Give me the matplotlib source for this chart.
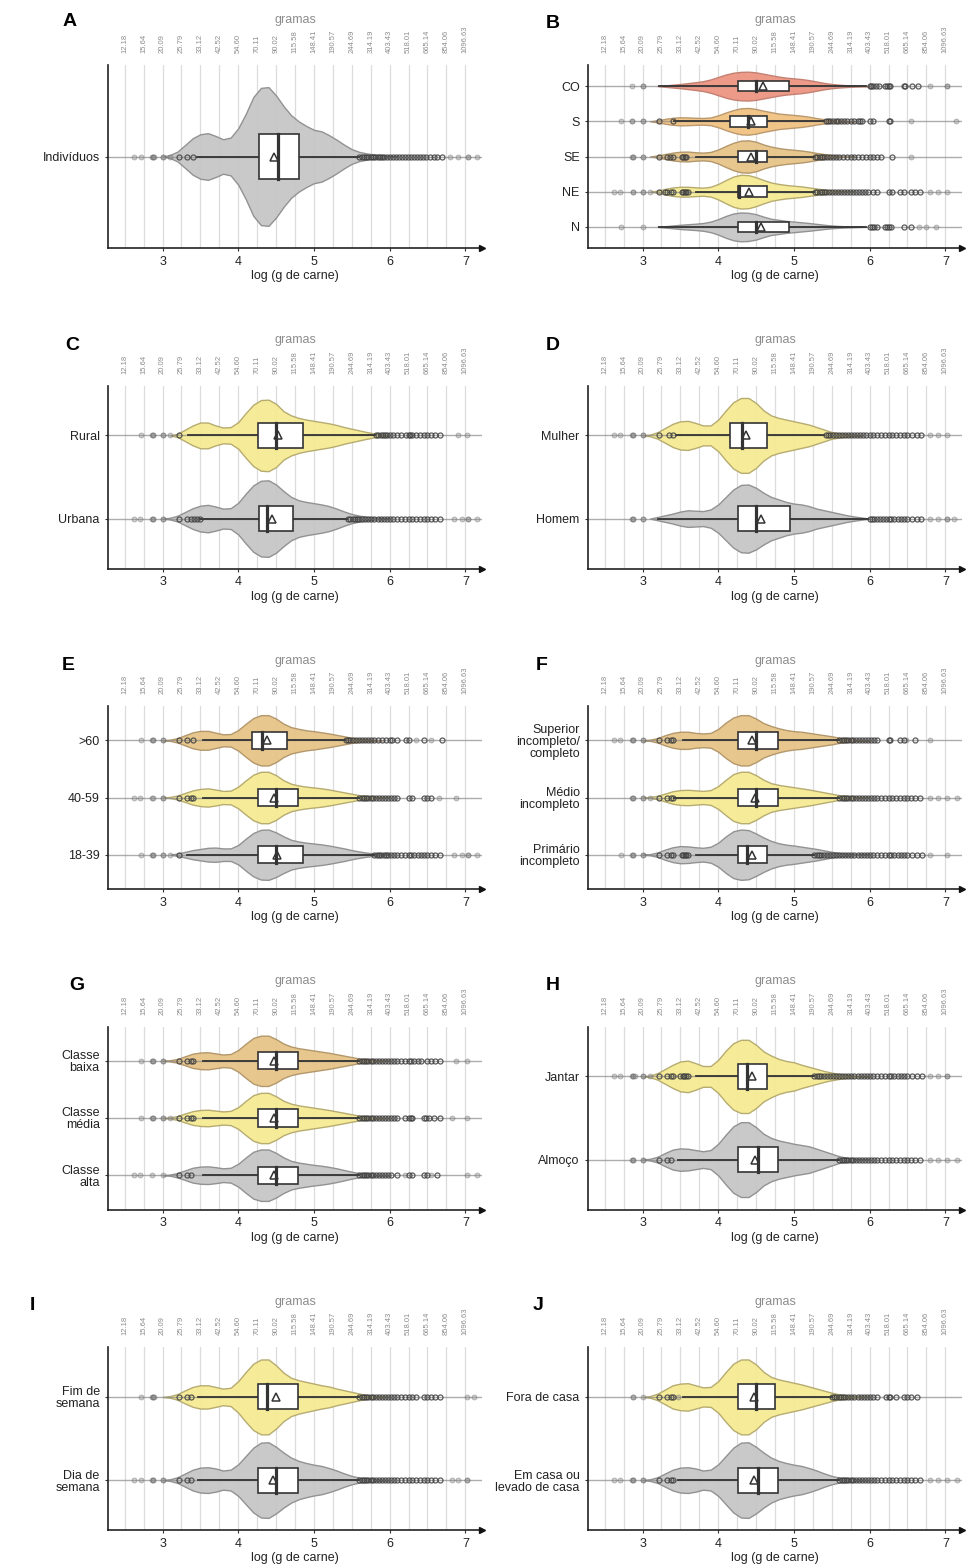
import numpy as np
import matplotlib
matplotlib.use('Agg')
import matplotlib.pyplot as plt
from matplotlib.patches import Rectangle

plt.rcParams['font.family'] = ['Liberation Sans', 'DejaVu Sans']

# top axis: grams at every 0.25 of log(g)
log_ticks = [2.5, 2.75, 3.0, 3.25, 3.5, 3.75, 4.0, 4.25, 4.5, 4.75, 5.0,
             5.25, 5.5, 5.75, 6.0, 6.25, 6.5, 6.75, 7.0]
gram_labels = ['12.18', '15.64', '20.09', '25.79', '33.12', '42.52', '54.60',
               '70.11', '90.02', '115.58', '148.41', '190.57', '244.69',
               '314.19', '403.43', '518.01', '665.14', '854.06', '1096.63']
x_ticks = [3, 4, 5, 6, 7]

# log(g) values where the violin half widths were read
prof_x = [3.0, 3.1, 3.2, 3.3, 3.4, 3.5, 3.6, 3.7, 3.8, 3.9, 4.0, 4.1, 4.2,
          4.3, 4.4, 4.5, 4.6, 4.7, 4.8, 4.9, 5.0, 5.1, 5.2, 5.3, 5.4, 5.5,
          5.6, 5.7, 5.8, 5.9, 6.0, 6.1, 6.2]

# box = [q1, median, q3, whisker low, whisker high, mean]

# A
a_labels = ['Indivíduos']
a_fill = ['grey']
a_width = [[0, .01, .033, .076, .12, .146, .153, .135, .113, .124, .185, .28, .39, .45, .455, .40,
            .33, .27, .23, .20, .175, .165, .14, .11, .077, .048, .03, .02, .013, .008, .004, 0, 0]]
a_box = [[4.27, 4.52, 4.80, 3.45, 5.60, 4.47]]
a_out = [[3.22, 3.33, 3.40, 5.60, 5.63, 5.66, 5.69, 5.72, 5.75, 5.78, 5.81, 5.84, 5.87, 5.90, 5.93,
          5.96, 6.0, 6.04, 6.08, 6.12, 6.16, 6.2, 6.24, 6.28, 6.32, 6.36, 6.4, 6.44, 6.48, 6.53,
          6.58, 6.63, 6.69]]
a_pts = [[2.62, 2.72, 2.86, 2.87, 2.88, 2.89, 3.0, 3.0, 3.1, 6.8, 6.9, 7.03, 7.03, 7.15]]

# B
b_labels = ['CO', 'S', 'SE', 'NE', 'N']
b_fill = ['salmon', 'orange', 'tan', 'yellow', 'grey']
b_width = [
    [0, 0, 0, .02, .04, .06, .085, .11, .14, .19, .26, .33, .38, .405, .41, .39, .35,
     .31, .27, .24, .22, .20, .17, .13, .09, .06, .04, .025, .015, .008, 0, 0, 0],
    [0, 0, .03, .07, .10, .115, .11, .10, .095, .11, .17, .25, .32, .37, .38, .35, .30,
     .26, .22, .20, .18, .16, .13, .09, .06, .035, .02, .01, 0, 0, 0, 0, 0],
    [0, 0, .03, .07, .11, .135, .14, .12, .11, .13, .20, .30, .39, .45, .46, .42, .34,
     .28, .24, .21, .19, .17, .14, .10, .07, .04, .02, .01, 0, 0, 0, 0, 0],
    [0, 0, .03, .08, .12, .14, .14, .125, .115, .14, .22, .33, .43, .48, .47, .41, .33,
     .26, .22, .19, .17, .15, .12, .09, .06, .035, .02, .01, 0, 0, 0, 0, 0],
    [0, 0, 0, .02, .04, .06, .075, .09, .11, .15, .22, .31, .38, .41, .40, .36, .29,
     .23, .20, .17, .15, .13, .11, .085, .06, .04, .025, .015, .008, 0, 0, 0, 0],
]
b_box = [[4.26, 4.50, 4.94, 3.22, 5.95, 4.59],
         [4.15, 4.39, 4.65, 3.42, 5.40, 4.43],
         [4.26, 4.50, 4.65, 3.70, 5.27, 4.43],
         [4.26, 4.27, 4.65, 3.70, 5.27, 4.41],
         [4.26, 4.50, 4.94, 3.22, 5.95, 4.57]]
b_out = [
    [6.0, 6.02, 6.05, 6.08, 6.12, 6.2, 6.23, 6.25, 6.27, 6.45, 6.47, 6.56, 6.64],
    [3.22, 3.40, 5.42, 5.45, 5.48, 5.51, 5.55, 5.58, 5.62, 5.66, 5.70, 5.75, 5.80, 5.84,
     5.87, 5.90, 6.0, 6.05, 6.25, 6.27],
    [3.22, 3.32, 3.36, 3.40, 3.52, 3.54, 3.56, 3.58, 5.28, 5.31, 5.34, 5.37, 5.40, 5.44,
     5.48, 5.52, 5.56, 5.60, 5.65, 5.70, 5.75, 5.80, 5.85, 5.90, 5.95, 6.0, 6.05, 6.1,
     6.15, 6.3],
    [3.22, 3.30, 3.33, 3.37, 3.40, 3.52, 3.54, 3.56, 3.58, 3.60, 5.28, 5.31, 5.34, 5.37,
     5.40, 5.43, 5.46, 5.50, 5.54, 5.58, 5.62, 5.66, 5.70, 5.74, 5.78, 5.82, 5.86, 5.90,
     5.94, 5.98, 6.05, 6.1, 6.25, 6.3, 6.4, 6.45, 6.55, 6.6, 6.67],
    [6.0, 6.03, 6.06, 6.1, 6.2, 6.23, 6.26, 6.28, 6.45, 6.55],
]
b_pts = [[2.86, 3.0, 3.0, 6.8, 7.02, 7.02],
         [2.72, 2.86, 2.86, 3.0, 3.0, 6.55, 7.14],
         [2.86, 2.88, 2.88, 3.0, 3.0, 6.55],
         [2.62, 2.7, 2.88, 2.88, 3.0, 3.0, 3.1, 6.8, 6.9, 7.02],
         [2.72, 3.0, 6.65, 6.75, 6.88]]

# C
c_labels = ['Rural', 'Urbana']
c_fill = ['yellow', 'grey']
c_width = [
    [0, 0, .02, .07, .12, .155, .155, .12, .095, .10, .16, .27, .37, .425, .43, .38, .29,
     .24, .21, .19, .175, .16, .145, .125, .10, .08, .06, .04, .022, .01, 0, 0, 0],
    [0, .01, .035, .08, .125, .155, .165, .145, .12, .125, .19, .30, .40, .455, .46, .41, .33,
     .26, .22, .20, .185, .17, .15, .12, .085, .055, .035, .022, .013, .007, 0, 0, 0],
]
c_box = [[4.26, 4.50, 4.86, 3.34, 5.81, 4.53],
         [4.27, 4.38, 4.72, 3.50, 5.44, 4.45]]
c_out = [
    [3.22, 5.82, 5.85, 5.88, 5.91, 5.94, 5.97, 6.0, 6.05, 6.1, 6.15, 6.22, 6.25, 6.27, 6.3,
     6.35, 6.4, 6.45, 6.5, 6.55, 6.6, 6.67],
    [3.22, 3.33, 3.37, 3.41, 3.45, 3.50, 5.45, 5.48, 5.51, 5.54, 5.57, 5.60, 5.64, 5.68,
     5.72, 5.76, 5.80, 5.84, 5.88, 5.92, 5.96, 6.0, 6.05, 6.1, 6.15, 6.2, 6.25, 6.3, 6.35,
     6.4, 6.45, 6.5, 6.55, 6.6, 6.67],
]
c_pts = [[2.72, 2.86, 2.87, 2.88, 3.0, 3.0, 3.1, 6.9, 7.02],
         [2.62, 2.7, 2.86, 2.87, 2.88, 3.0, 3.0, 6.85, 6.95, 7.03, 7.03, 7.15]]

# D
d_labels = ['Mulher', 'Homem']
d_fill = ['yellow', 'grey']
d_width = [
    [0, .01, .04, .09, .14, .17, .175, .15, .12, .12, .19, .30, .40, .45, .45, .39, .30,
     .24, .21, .19, .17, .15, .13, .10, .07, .04, .025, .015, .008, 0, 0, 0, 0],
    [0, 0, .02, .04, .06, .085, .10, .095, .09, .11, .17, .26, .35, .405, .41, .37, .31,
     .26, .23, .20, .18, .17, .15, .12, .10, .08, .06, .04, .025, .012, 0, 0, 0],
]
d_box = [[4.15, 4.32, 4.65, 3.44, 5.40, 4.37],
         [4.26, 4.50, 4.95, 3.20, 5.98, 4.56]]
d_out = [
    [3.22, 3.35, 3.40, 5.42, 5.45, 5.48, 5.51, 5.55, 5.59, 5.63, 5.67, 5.71, 5.75, 5.79,
     5.83, 5.87, 5.91, 5.95, 6.0, 6.05, 6.1, 6.15, 6.2, 6.25, 6.3, 6.35, 6.4, 6.45, 6.5,
     6.56, 6.62, 6.68],
    [6.0, 6.03, 6.06, 6.1, 6.14, 6.18, 6.22, 6.25, 6.28, 6.32, 6.37, 6.42, 6.46, 6.5, 6.56,
     6.62, 6.68],
]
d_pts = [[2.62, 2.7, 2.86, 2.87, 2.88, 3.0, 3.0, 6.8, 6.9, 7.02],
         [2.86, 2.87, 2.88, 3.0, 3.0, 6.8, 6.9, 7.02, 7.02, 7.12]]

# E
e_labels = ['>60', '40-59', '18-39']
e_fill = ['tan', 'yellow', 'grey']
e_width = [
    [0, .01, .04, .09, .14, .165, .165, .135, .105, .11, .18, .29, .39, .44, .44, .38, .29,
     .23, .20, .175, .16, .14, .12, .095, .07, .045, .028, .016, .008, 0, 0, 0, 0],
    [0, .01, .035, .08, .125, .15, .16, .14, .115, .12, .19, .30, .40, .45, .45, .39, .30,
     .24, .21, .19, .175, .16, .14, .115, .09, .065, .04, .025, .013, .006, 0, 0, 0],
    [0, 0, .02, .05, .08, .10, .12, .125, .11, .11, .17, .28, .38, .435, .44, .39, .32,
     .26, .23, .21, .195, .18, .16, .135, .11, .08, .055, .035, .02, .01, 0, 0, 0],
]
e_box = [[4.18, 4.32, 4.65, 3.54, 5.41, 4.38],
         [4.26, 4.50, 4.79, 3.54, 5.60, 4.47],
         [4.26, 4.50, 4.86, 3.33, 5.80, 4.51]]
e_out = [
    [3.22, 3.33, 3.40, 5.42, 5.45, 5.48, 5.51, 5.55, 5.59, 5.63, 5.67, 5.71, 5.75, 5.80,
     5.85, 5.90, 5.95, 6.0, 6.03, 6.1, 6.22, 6.25, 6.45, 6.69],
    [3.22, 3.33, 3.37, 3.40, 5.60, 5.63, 5.66, 5.69, 5.72, 5.75, 5.78, 5.82, 5.86, 5.90,
     5.94, 5.98, 6.02, 6.06, 6.1, 6.25, 6.3, 6.45, 6.5, 6.55],
    [3.22, 5.80, 5.83, 5.86, 5.89, 5.92, 5.95, 5.98, 6.02, 6.06, 6.1, 6.15, 6.2, 6.25,
     6.28, 6.32, 6.37, 6.42, 6.46, 6.5, 6.55, 6.6, 6.67],
]
e_pts = [[2.72, 2.86, 2.87, 2.88, 3.0, 3.0, 6.35, 6.55],
         [2.62, 2.7, 2.86, 2.87, 3.0, 3.0, 6.65, 6.88],
         [2.72, 2.86, 2.87, 2.88, 3.0, 3.0, 3.1, 6.85, 6.95, 7.03, 7.03, 7.15]]

# F
f_labels = ['Superior\nincompleto/\ncompleto', 'Médio\nincompleto', 'Primário\nincompleto']
f_fill = ['tan', 'yellow', 'grey']
f_width = [
    [0, .01, .04, .09, .13, .15, .15, .13, .12, .13, .20, .31, .40, .44, .44, .38, .30,
     .25, .21, .18, .16, .15, .13, .11, .09, .07, .045, .025, .012, .005, 0, 0, 0],
    [0, .01, .03, .07, .11, .13, .135, .125, .115, .13, .20, .31, .41, .45, .45, .39, .31,
     .25, .22, .20, .18, .16, .14, .115, .09, .065, .04, .025, .013, .006, 0, 0, 0],
    [0, .01, .04, .09, .13, .15, .145, .13, .12, .14, .21, .32, .41, .44, .43, .37, .30,
     .24, .20, .175, .16, .14, .12, .10, .075, .05, .03, .018, .01, .005, 0, 0, 0],
]
f_box = [[4.26, 4.50, 4.79, 3.54, 5.60, 4.45],
         [4.26, 4.50, 4.79, 3.42, 5.60, 4.48],
         [4.26, 4.38, 4.65, 3.70, 5.27, 4.45]]
f_out = [
    [3.22, 3.33, 3.37, 3.40, 5.60, 5.63, 5.66, 5.69, 5.72, 5.75, 5.78, 5.82, 5.86, 5.90,
     5.94, 5.98, 6.02, 6.06, 6.1, 6.25, 6.27, 6.4, 6.45, 6.6],
    [3.22, 3.33, 3.37, 3.40, 5.60, 5.63, 5.66, 5.69, 5.72, 5.75, 5.78, 5.82, 5.86, 5.90,
     5.94, 5.98, 6.02, 6.06, 6.1, 6.15, 6.2, 6.25, 6.3, 6.35, 6.4, 6.45, 6.5, 6.55, 6.6, 6.67],
    [3.22, 3.33, 3.37, 3.40, 3.52, 3.54, 3.56, 3.58, 3.60, 5.27, 5.30, 5.33, 5.36, 5.40,
     5.44, 5.48, 5.52, 5.56, 5.60, 5.64, 5.68, 5.72, 5.76, 5.80, 5.84, 5.88, 5.92, 5.96,
     6.0, 6.05, 6.1, 6.15, 6.2, 6.25, 6.28, 6.32, 6.37, 6.42, 6.46, 6.5, 6.56, 6.62, 6.69],
]
f_pts = [[2.62, 2.7, 2.86, 2.87, 2.88, 3.0, 3.0, 6.48, 6.8],
         [2.86, 2.87, 2.88, 3.0, 3.0, 3.1, 6.8, 6.9, 7.02, 7.15],
         [2.72, 2.86, 2.87, 2.88, 3.0, 3.0, 6.8, 7.02]]

# G
g_labels = ['Classe\nbaixa', 'Classe\nmédia', 'Classe\nalta']
g_fill = ['tan', 'yellow', 'grey']
g_width = [
    [0, .01, .035, .08, .125, .145, .15, .13, .11, .12, .19, .30, .40, .44, .44, .38, .30,
     .25, .22, .20, .18, .16, .14, .115, .09, .065, .04, .025, .013, .006, 0, 0, 0],
    [0, .01, .035, .08, .12, .14, .145, .13, .115, .125, .19, .30, .40, .44, .44, .38, .30,
     .25, .22, .20, .18, .16, .14, .115, .09, .065, .04, .025, .013, .006, 0, 0, 0],
    [0, .01, .04, .085, .13, .15, .155, .14, .12, .13, .20, .31, .41, .45, .45, .39, .31,
     .25, .22, .20, .18, .165, .145, .12, .09, .06, .035, .02, .01, .005, 0, 0, 0],
]
g_box = [[4.26, 4.50, 4.79, 3.54, 5.60, 4.47],
         [4.26, 4.50, 4.79, 3.54, 5.60, 4.47],
         [4.26, 4.50, 4.79, 3.54, 5.60, 4.47]]
g_out = [
    [3.22, 3.33, 3.37, 3.40, 5.60, 5.63, 5.66, 5.69, 5.72, 5.75, 5.78, 5.82, 5.86, 5.90,
     5.94, 5.98, 6.02, 6.06, 6.1, 6.15, 6.2, 6.25, 6.28, 6.32, 6.37, 6.42, 6.5, 6.55, 6.6, 6.67],
    [3.22, 3.33, 3.37, 3.40, 5.60, 5.63, 5.66, 5.69, 5.72, 5.75, 5.78, 5.82, 5.86, 5.90,
     5.94, 5.98, 6.02, 6.06, 6.1, 6.2, 6.25, 6.28, 6.3, 6.45, 6.48, 6.52, 6.58, 6.67],
    [3.22, 3.33, 3.37, 5.60, 5.63, 5.66, 5.69, 5.72, 5.75, 5.78, 5.82, 5.86, 5.90, 5.94,
     5.98, 6.02, 6.1, 6.25, 6.3, 6.45, 6.5, 6.62],
]
g_pts = [[2.72, 2.86, 2.87, 2.88, 3.0, 3.0, 6.88, 7.02],
         [2.72, 2.86, 2.87, 2.88, 3.0, 3.0, 3.1, 6.82, 7.02],
         [2.62, 2.7, 2.86, 3.0, 6.2, 6.55, 7.02, 7.15]]

# H
h_labels = ['Jantar', 'Almoço']
h_fill = ['yellow', 'grey']
h_width = [
    [0, .01, .04, .09, .14, .18, .19, .16, .125, .125, .20, .31, .40, .44, .44, .38, .30,
     .25, .21, .185, .17, .14, .115, .09, .065, .045, .03, .018, .01, .005, 0, 0, 0],
    [0, .01, .035, .08, .12, .135, .13, .115, .10, .115, .19, .30, .40, .45, .45, .39, .31,
     .26, .23, .21, .19, .175, .16, .13, .10, .07, .04, .022, .011, .005, 0, 0, 0],
]
h_box = [[4.26, 4.38, 4.65, 3.70, 5.27, 4.44],
         [4.26, 4.52, 4.79, 3.47, 5.60, 4.48]]
h_out = [
    [3.22, 3.33, 3.37, 3.40, 3.50, 3.53, 3.55, 3.57, 3.60, 5.27, 5.30, 5.33, 5.36, 5.40,
     5.44, 5.48, 5.52, 5.56, 5.60, 5.64, 5.68, 5.72, 5.76, 5.80, 5.84, 5.88, 5.92, 5.96,
     6.0, 6.05, 6.1, 6.15, 6.2, 6.25, 6.28, 6.32, 6.37, 6.42, 6.46, 6.5, 6.56, 6.62, 6.69],
    [3.22, 3.33, 3.37, 5.60, 5.63, 5.66, 5.69, 5.72, 5.75, 5.78, 5.82, 5.86, 5.90, 5.94,
     5.98, 6.02, 6.06, 6.1, 6.15, 6.2, 6.25, 6.3, 6.35, 6.4, 6.45, 6.5, 6.55, 6.6, 6.67],
]
h_pts = [[2.62, 2.7, 2.86, 2.87, 2.88, 2.9, 3.0, 3.0, 3.1, 6.8, 6.9, 7.02, 7.02],
         [2.86, 2.87, 2.88, 3.0, 3.0, 6.8, 6.9, 7.02, 7.15]]

# I
i_labels = ['Fim de\nsemana', 'Dia de\nsemana']
i_fill = ['yellow', 'grey']
i_width = [
    [0, .01, .035, .08, .12, .14, .14, .12, .10, .11, .19, .30, .40, .45, .45, .38, .29,
     .23, .20, .18, .16, .14, .125, .10, .08, .06, .04, .022, .011, .005, 0, 0, 0],
    [0, .01, .035, .08, .125, .15, .155, .14, .115, .125, .19, .29, .39, .45, .455, .40, .33,
     .27, .23, .205, .185, .17, .145, .115, .08, .05, .03, .02, .012, .006, 0, 0, 0],
]
i_box = [[4.26, 4.38, 4.79, 3.47, 5.60, 4.50],
         [4.26, 4.50, 4.79, 3.47, 5.60, 4.46]]
i_out = [
    [3.22, 3.33, 3.37, 5.60, 5.63, 5.66, 5.69, 5.72, 5.75, 5.78, 5.82, 5.86, 5.90, 5.94,
     5.98, 6.02, 6.06, 6.1, 6.15, 6.2, 6.25, 6.3, 6.35, 6.45, 6.5, 6.55, 6.6, 6.67],
    [3.22, 3.33, 3.37, 5.60, 5.63, 5.66, 5.69, 5.72, 5.75, 5.78, 5.82, 5.86, 5.90, 5.94,
     5.98, 6.02, 6.06, 6.1, 6.15, 6.2, 6.25, 6.3, 6.35, 6.4, 6.45, 6.5, 6.55, 6.6, 6.67],
]
i_pts = [[2.72, 2.86, 2.87, 2.88, 2.89, 7.02, 7.12],
         [2.62, 2.72, 2.86, 2.87, 2.88, 3.0, 3.0, 6.82, 6.9, 7.02, 7.02]]

# J
j_labels = ['Fora de casa', 'Em casa ou\nlevado de casa']
j_fill = ['yellow', 'grey']
j_width = [
    [0, .01, .04, .09, .14, .16, .165, .14, .115, .12, .19, .30, .40, .45, .45, .39, .30,
     .24, .21, .19, .17, .15, .125, .10, .075, .05, .03, .018, .01, .005, 0, 0, 0],
    [0, .01, .035, .08, .125, .15, .155, .14, .115, .125, .19, .29, .39, .45, .455, .40, .33,
     .27, .23, .205, .185, .17, .145, .115, .08, .05, .03, .02, .012, .006, 0, 0, 0],
]
j_box = [[4.26, 4.50, 4.75, 3.54, 5.50, 4.47],
         [4.26, 4.52, 4.79, 3.47, 5.60, 4.47]]
j_out = [
    [3.22, 3.33, 3.37, 3.40, 5.50, 5.53, 5.56, 5.59, 5.62, 5.65, 5.68, 5.72, 5.76, 5.80,
     5.84, 5.88, 5.92, 5.96, 6.0, 6.05, 6.1, 6.22, 6.25, 6.27, 6.35, 6.45, 6.5, 6.55, 6.62],
    [3.22, 3.33, 3.37, 3.40, 5.60, 5.63, 5.66, 5.69, 5.72, 5.75, 5.78, 5.82, 5.86, 5.90,
     5.94, 5.98, 6.02, 6.06, 6.1, 6.15, 6.2, 6.25, 6.3, 6.35, 6.4, 6.45, 6.5, 6.55, 6.6, 6.67],
]
j_pts = [[2.88, 2.88, 3.0, 3.47],
         [2.62, 2.7, 2.86, 2.87, 2.88, 3.0, 3.0, 6.8, 6.9, 7.02, 7.15]]

panels = [
    ('A', a_labels, a_fill, a_width, a_box, a_out, a_pts),
    ('B', b_labels, b_fill, b_width, b_box, b_out, b_pts),
    ('C', c_labels, c_fill, c_width, c_box, c_out, c_pts),
    ('D', d_labels, d_fill, d_width, d_box, d_out, d_pts),
    ('E', e_labels, e_fill, e_width, e_box, e_out, e_pts),
    ('F', f_labels, f_fill, f_width, f_box, f_out, f_pts),
    ('G', g_labels, g_fill, g_width, g_box, g_out, g_pts),
    ('H', h_labels, h_fill, h_width, h_box, h_out, h_pts),
    ('I', i_labels, i_fill, i_width, i_box, i_out, i_pts),
    ('J', j_labels, j_fill, j_width, j_box, j_out, j_pts),
]

fill_col = {'grey': '#C6C6C6', 'yellow': '#F5EA93', 'tan': '#E6C487',
            'orange': '#F1C282', 'salmon': '#EC9583'}
edge_col = {'grey': '#8E8E8E', 'yellow': '#B3A86C', 'tan': '#B09468',
            'orange': '#B8956A', 'salmon': '#C27D6E'}
# letter positions in pixels (x, y from top)
letter_pos = [(70, 22), (553, 23), (72, 345), (553, 345), (68, 665),
              (542, 665), (77, 985), (553, 985), (32, 1305), (538, 1305)]

W, H = 969, 1567
fig = plt.figure(figsize=(W / 100, H / 100), dpi=100)
dark = '#333333'

for k, (letter, labels, fills, widths, boxes, outs, pts) in enumerate(panels):
    row, col = k // 2, k % 2
    left = 108 if col == 0 else 588
    top = 65 + 320.5 * row
    ax = fig.add_axes([left / W, 1 - (top + 183) / H, 374 / W, 183 / H])
    n = len(labels)
    ys = list(range(n, 0, -1))
    ax.set_xlim(2.28, 7.22)
    ax.set_ylim(0.4, n + 0.6)

    for g in log_ticks:
        ax.axvline(g, color='#dcdcdc', lw=0.9, zorder=0)

    for y, fc, w, bx, out, pt in zip(ys, fills, widths, boxes, outs, pts):
        w = np.array(w)
        nz = np.nonzero(w)[0]
        i0, i1 = max(nz[0] - 1, 0), min(nz[-1] + 2, len(w))
        xs = np.array(prof_x[i0:i1])
        ax.fill_between(xs, y - w[i0:i1], y + w[i0:i1], facecolor=fill_col[fc],
                        edgecolor=edge_col[fc], lw=1.0, alpha=0.95, zorder=1)
        ax.plot([2.28, 7.22], [y, y], color='#8a8a8a', lw=1.0, alpha=0.7, zorder=2)
        ax.plot(pt, [y] * len(pt), 'o', ms=3.6, mfc='#8a8a8a', mec='#5a5a5a',
                mew=0.6, alpha=0.4, zorder=3)
        q1, med, q3, lo, hi, mean = bx
        ax.plot([lo, q1], [y, y], color=dark, lw=1.3, zorder=4)
        ax.plot([q3, hi], [y, y], color=dark, lw=1.3, zorder=4)
        ax.add_patch(Rectangle((q1, y - 0.15), q3 - q1, 0.3, facecolor='white',
                               edgecolor=dark, lw=1.2, zorder=5))
        ax.plot([med, med], [y - 0.15, y + 0.15], color=dark, lw=2.3, zorder=6)
        ax.plot(out, [y] * len(out), 'o', ms=3.6, mfc='none', mec='#404040',
                mew=0.9, alpha=0.85, zorder=6)
        ax.plot([mean], [y], '^', ms=5.5, mfc='none', mec=dark, mew=1.1, zorder=7)

    for s in ['top', 'right']:
        ax.spines[s].set_visible(False)
    for s in ['left', 'bottom']:
        ax.spines[s].set_color('#222222')
        ax.spines[s].set_linewidth(1.2)
    ax.plot([1], [0], '>', transform=ax.transAxes, clip_on=False, color='#111111',
            ms=5, zorder=8)

    ax.set_xticks(x_ticks)
    ax.set_xticklabels([str(t) for t in x_ticks])
    ax.set_yticks(ys)
    ax.set_yticklabels(labels, linespacing=1.0)
    ax.tick_params(axis='both', length=2.5, width=0.8, color=dark, labelsize=9,
                   labelcolor='#222222')
    ax.tick_params(axis='x', pad=3)
    ax.tick_params(axis='y', pad=3.5)
    ax.set_xlabel('log (g de carne)', fontsize=9, color='#222222', labelpad=2)

    sec = ax.secondary_xaxis('top')
    sec.set_xticks(log_ticks)
    sec.set_xticklabels(gram_labels, rotation=90, fontsize=5.5, color='#8c8c8c')
    sec.tick_params(length=0, pad=8.5)
    sec.spines['top'].set_visible(False)
    sec.set_xlabel('gramas', fontsize=9, color='#8c8c8c', labelpad=2)

    lx, ly = letter_pos[k]
    fig.text(lx / W, 1 - ly / H, letter, fontsize=14, fontweight='bold',
             ha='center', va='center')

fig.savefig('out.png', dpi=100)
